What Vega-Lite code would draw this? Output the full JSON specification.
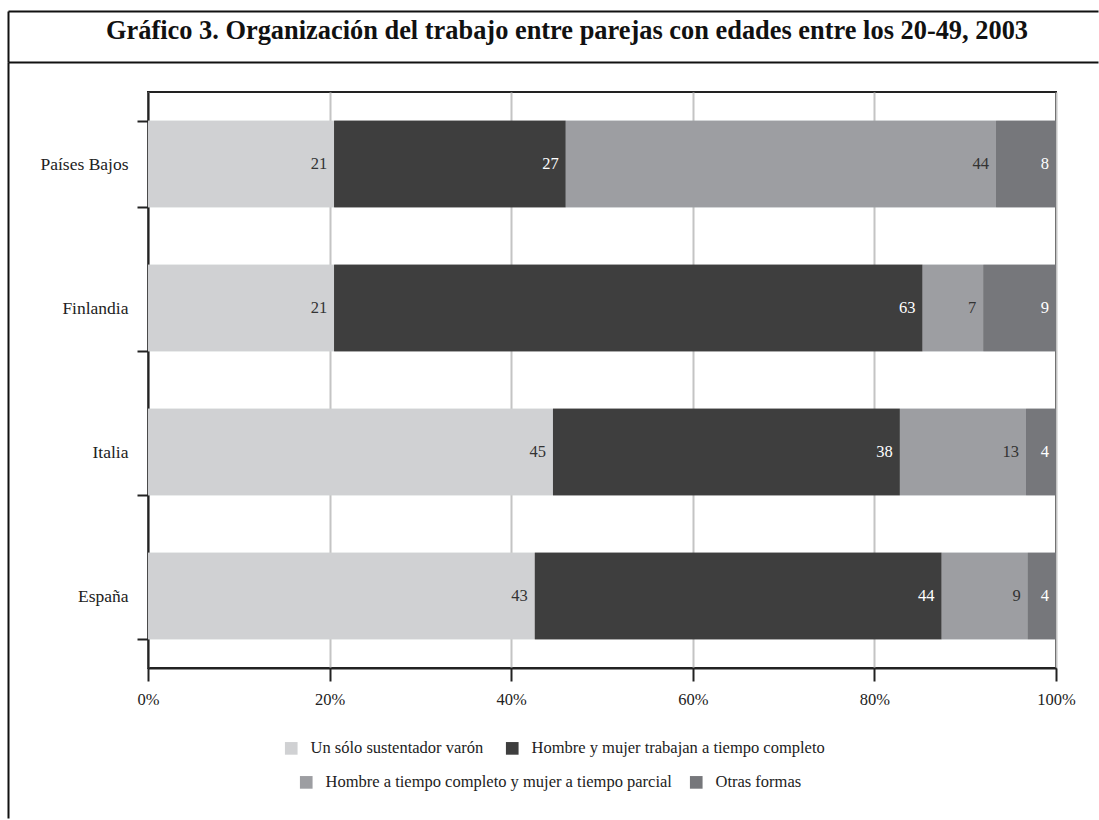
{
  "$schema": "https://vega.github.io/schema/vega-lite/v6.json",
  "padding": {"left": 7, "top": 11, "right": 0, "bottom": 0},
  "background": "white",
  "spacing": -1,
  "config": {
    "font": "Liberation Serif",
    "view": {"stroke": null}
  },
  "vconcat": [
    {
      "width": 950,
      "height": 51,
      "view": {"stroke": null, "fill": null},
      "data": {"values": [{"t": "Gráfico 3. Organización del trabajo entre parejas con edades entre los 20-49, 2003"}]},
      "mark": {"type": "text", "fontSize": 26.4, "fontWeight": "bold", "color": "#111", "font": "Liberation Serif", "baseline": "alphabetic", "dx": 14, "dy": 2},
      "encoding": {
        "text": {"field": "t"},
        "x": {"datum": 0.5, "type": "quantitative", "scale": {"domain": [0, 1], "range": [-140, 950]},
              "axis": {"orient": "top", "domainColor": "#111", "domainWidth": 2, "ticks": false, "labels": false, "grid": false, "title": null}},
        "y": {"datum": 0.5, "type": "quantitative", "scale": {"domain": [0, 1]},
              "axis": {"orient": "left", "offset": 140, "domainColor": "#111", "domainWidth": 2, "ticks": false, "labels": false, "grid": false, "title": null}}
      }
    },
    {
      "width": 908,
      "height": 576,
      "view": {"stroke": "#222", "strokeWidth": 2},
      "data": {
        "values": [
          {"country": "Países Bajos", "cat": "Un sólo sustentador varón", "k": 1, "v": 20.5, "lab": "21"},
          {"country": "Países Bajos", "cat": "Hombre y mujer trabajan a tiempo completo", "k": 2, "v": 25.5, "lab": "27"},
          {"country": "Países Bajos", "cat": "Hombre a tiempo completo y mujer a tiempo parcial", "k": 3, "v": 47.4, "lab": "44"},
          {"country": "Países Bajos", "cat": "Otras formas", "k": 4, "v": 6.6, "lab": "8"},
          {"country": "Finlandia", "cat": "Un sólo sustentador varón", "k": 1, "v": 20.5, "lab": "21"},
          {"country": "Finlandia", "cat": "Hombre y mujer trabajan a tiempo completo", "k": 2, "v": 64.8, "lab": "63"},
          {"country": "Finlandia", "cat": "Hombre a tiempo completo y mujer a tiempo parcial", "k": 3, "v": 6.7, "lab": "7"},
          {"country": "Finlandia", "cat": "Otras formas", "k": 4, "v": 8.0, "lab": "9"},
          {"country": "Italia", "cat": "Un sólo sustentador varón", "k": 1, "v": 44.6, "lab": "45"},
          {"country": "Italia", "cat": "Hombre y mujer trabajan a tiempo completo", "k": 2, "v": 38.2, "lab": "38"},
          {"country": "Italia", "cat": "Hombre a tiempo completo y mujer a tiempo parcial", "k": 3, "v": 13.9, "lab": "13"},
          {"country": "Italia", "cat": "Otras formas", "k": 4, "v": 3.3, "lab": "4"},
          {"country": "España", "cat": "Un sólo sustentador varón", "k": 1, "v": 42.6, "lab": "43"},
          {"country": "España", "cat": "Hombre y mujer trabajan a tiempo completo", "k": 2, "v": 44.8, "lab": "44"},
          {"country": "España", "cat": "Hombre a tiempo completo y mujer a tiempo parcial", "k": 3, "v": 9.5, "lab": "9"},
          {"country": "España", "cat": "Otras formas", "k": 4, "v": 3.1, "lab": "4"}
        ]
      },
      "layer": [
        {
          "encoding": {
            "y": {
              "field": "country", "type": "nominal",
              "sort": ["Países Bajos", "Finlandia", "Italia", "España"],
              "scale": {"paddingInner": 0.4, "paddingOuter": 0.2},
              "axis": {
                "orient": "left", "title": null, "tickBand": "extent", "tickSize": 11, "tickColor": "#222", "tickWidth": 2,
                "domainColor": "#222", "domainWidth": 2, "labelPadding": 9, "labelFontSize": 17.5,
                "labelColor": "#222", "labelFont": "Liberation Serif", "grid": false,
                "minExtent": 140, "maxExtent": 140
              }
            },
            "x": {
              "field": "v", "type": "quantitative", "stack": "normalize",
              "axis": {
                "orient": "bottom", "title": null, "values": [0, 0.2, 0.4, 0.6, 0.8, 1], "format": ".0%",
                "grid": true, "gridColor": "#c4c4c4", "gridWidth": 2,
                "tickSize": 13, "tickColor": "#222", "tickWidth": 2,
                "domainColor": "#222", "domainWidth": 2,
                "labelPadding": 10, "labelFontSize": 16.5, "labelColor": "#222",
                "labelFont": "Liberation Serif", "labelFlush": false
              }
            },
            "order": {"field": "k", "type": "quantitative"}
          },
          "layer": [
            {
              "mark": {"type": "bar"},
              "encoding": {
                "color": {
                  "field": "cat", "type": "nominal",
                  "scale": {
                    "domain": ["Un sólo sustentador varón", "Hombre y mujer trabajan a tiempo completo", "Hombre a tiempo completo y mujer a tiempo parcial", "Otras formas"],
                    "range": ["#d0d1d3", "#3e3e3e", "#9d9ea2", "#76777b"]
                  },
                  "legend": {
                    "values": ["Un sólo sustentador varón", "Hombre y mujer trabajan a tiempo completo"],
                    "orient": "none", "legendX": 135, "legendY": 648, "direction": "horizontal", "title": null,
                    "symbolType": "square", "symbolSize": 160, "symbolStrokeWidth": 0,
                    "labelFontSize": 16.5, "labelFont": "Liberation Serif", "labelColor": "#222",
                    "labelOffset": 11, "columnPadding": 20, "padding": 0, "labelLimit": 600
                  }
                }
              }
            },
            {
              "mark": {"type": "bar"},
              "encoding": {
                "color": {
                  "field": "cat", "type": "nominal",
                  "scale": {
                    "domain": ["Un sólo sustentador varón", "Hombre y mujer trabajan a tiempo completo", "Hombre a tiempo completo y mujer a tiempo parcial", "Otras formas"],
                    "range": ["#d0d1d3", "#3e3e3e", "#9d9ea2", "#76777b"]
                  },
                  "legend": {
                    "values": ["Hombre a tiempo completo y mujer a tiempo parcial", "Otras formas"],
                    "orient": "none", "legendX": 150, "legendY": 682, "direction": "horizontal", "title": null,
                    "symbolType": "square", "symbolSize": 160, "symbolStrokeWidth": 0,
                    "labelFontSize": 16.5, "labelFont": "Liberation Serif", "labelColor": "#222",
                    "labelOffset": 11, "columnPadding": 16, "padding": 0, "labelLimit": 600
                  }
                }
              }
            },
            {
              "mark": {"type": "text", "align": "right", "baseline": "middle", "dx": -7, "fontSize": 16.5, "font": "Liberation Serif"},
              "encoding": {
                "text": {"field": "lab"},
                "color": {"condition": {"test": "datum.k == 1 || datum.k == 3", "value": "#333333"}, "value": "#ffffff"}
              }
            }
          ],
          "resolve": {"scale": {"color": "independent"}}
        },
        {
          "mark": {"type": "point", "opacity": 0},
          "encoding": {
            "x": {"datum": 0.5, "type": "quantitative", "scale": {"domain": [0, 1], "range": [-140, 950]},
                  "axis": {"orient": "top", "offset": 30, "domainColor": "#111", "domainWidth": 2, "ticks": false, "labels": false, "grid": false, "title": null}},
            "y": {"datum": 0.5, "type": "quantitative", "scale": {"domain": [0, 1], "range": [-30, 726]},
                  "axis": {"orient": "left", "offset": 140, "domainColor": "#111", "domainWidth": 2, "ticks": false, "labels": false, "grid": false, "title": null}}
          }
        }
      ],
      "resolve": {"scale": {"x": "independent", "y": "independent"}, "axis": {"x": "independent", "y": "independent"}}
    }
  ]
}
